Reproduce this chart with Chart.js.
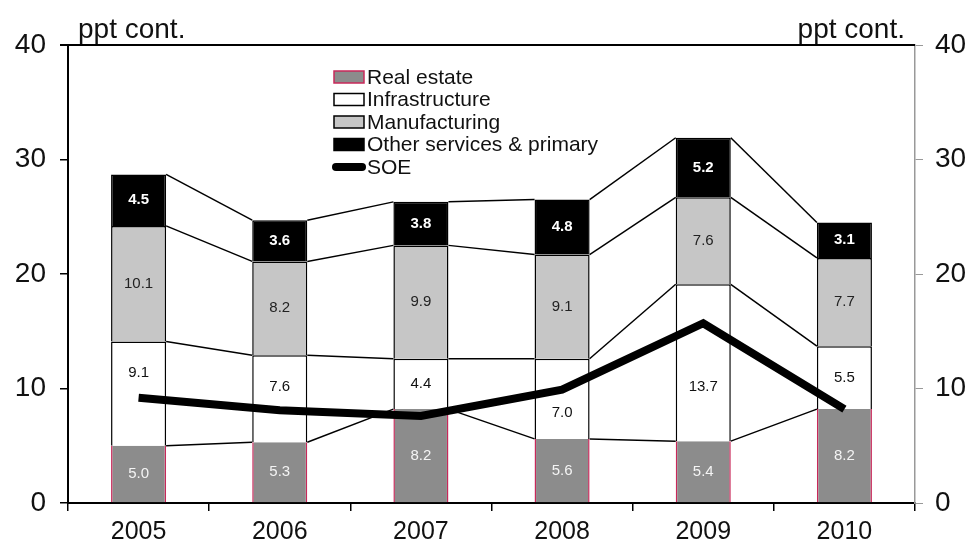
<!DOCTYPE html>
<html>
<head>
<meta charset="utf-8">
<script src="https://cdn.jsdelivr.net/npm/chart.js@4.4.0/dist/chart.umd.min.js"></script>
<style>
  html, body { margin: 0; padding: 0; background: #fff; }
  #wrap { width: 979px; height: 551px; }
</style>
</head>
<body>
<div id="wrap"><canvas id="grafico"></canvas></div>
<script>
const anos = ['2005', '2006', '2007', '2008', '2009', '2010'];
const realEstate = [5.0, 5.3, 8.2, 5.6, 5.4, 8.2];
const infraestrutura = [9.1, 7.6, 4.4, 7.0, 13.7, 5.5];
const manufatura = [10.1, 8.2, 9.9, 9.1, 7.6, 7.7];
const outros = [4.5, 3.6, 3.8, 4.8, 5.2, 3.1];
const soe = [9.2, 8.1, 7.6, 9.9, 15.7, 8.2];
const rotuloEixo = 'ppt cont.';

const fonte = '"Liberation Sans", Arial, sans-serif';

// rótulos de infraestrutura deslocados para fugir da linha SOE (em pontos do eixo)
const deslocaInfra = [1.8, 1.0, 0, -1.2, -2.1, 0];

// linhas que ligam os segmentos de uma barra a outra
const ligacoes = {
    id: 'ligacoes',
    beforeDatasetsDraw(chart) {
        const ctx = chart.ctx;
        ctx.save();
        ctx.strokeStyle = '#000';
        ctx.lineWidth = 1.5;
        for (let d = 0; d < 4; d++) {
            const barras = chart.getDatasetMeta(d).data;
            for (let i = 0; i < barras.length - 1; i++) {
                const a = barras[i], b = barras[i + 1];
                ctx.beginPath();
                ctx.moveTo(a.x + a.width / 2, a.y);
                ctx.lineTo(b.x - b.width / 2, b.y);
                ctx.stroke();
            }
        }
        ctx.restore();
    },
    afterDatasetDraw(chart, args) {
        if (args.index > 3) return;
        const ctx = chart.ctx;
        const esc = chart.scales.y;
        const pxPorPonto = (esc.getPixelForValue(0) - esc.getPixelForValue(10)) / 10;
        const cores = ['#f4f4f4', '#111', '#222', '#fff'];
        const valores = [realEstate, infraestrutura, manufatura, outros][args.index];
        ctx.save();
        ctx.font = (args.index === 3 ? 'bold ' : '') + '15px ' + fonte;
        ctx.fillStyle = cores[args.index];
        ctx.textAlign = 'center';
        ctx.textBaseline = 'middle';
        args.meta.data.forEach((bar, i) => {
            let y = (bar.y + bar.base) / 2;
            if (args.index === 1) y -= deslocaInfra[i] * pxPorPonto;
            ctx.fillText(valores[i].toFixed(1), bar.x, y);
        });
        ctx.restore();
    },
    afterDraw(chart) {
        const ctx = chart.ctx;
        const area = chart.chartArea;
        ctx.save();
        // linha de cima
        ctx.strokeStyle = '#000';
        ctx.lineWidth = 2;
        ctx.beginPath();
        ctx.moveTo(area.left - 8, area.top);
        ctx.lineTo(area.right, area.top);
        ctx.stroke();

        ctx.fillStyle = '#111';
        ctx.font = '28px ' + fonte;
        ctx.textBaseline = 'alphabetic';
        ctx.textAlign = 'left';
        ctx.fillText(rotuloEixo, 78, 38);
        ctx.textAlign = 'right';
        ctx.fillText(rotuloEixo, 905, 38);

        // legenda
        const itens = [
            { t: 'Real estate', fill: '#8c8c8c', stroke: '#c8285a' },
            { t: 'Infrastructure', fill: '#fff', stroke: '#000' },
            { t: 'Manufacturing', fill: '#c6c6c6', stroke: '#000' },
            { t: 'Other services & primary', fill: '#000', stroke: '#000' },
            { t: 'SOE', linha: true }
        ];
        ctx.font = '21px ' + fonte;
        ctx.textAlign = 'left';
        ctx.textBaseline = 'middle';
        itens.forEach((it, k) => {
            const y = 77 + k * 22.5;
            if (it.linha) {
                ctx.strokeStyle = '#000';
                ctx.lineWidth = 8;
                ctx.lineCap = 'round';
                ctx.beginPath();
                ctx.moveTo(336, y);
                ctx.lineTo(362, y);
                ctx.stroke();
            } else {
                ctx.fillStyle = it.fill;
                ctx.fillRect(334, y - 6, 30, 12);
                ctx.strokeStyle = it.stroke;
                ctx.lineWidth = 1.5;
                ctx.strokeRect(334, y - 6, 30, 12);
            }
            ctx.fillStyle = '#111';
            ctx.fillText(it.t, 367, y + 1);
        });
        ctx.restore();
    }
};

new Chart(document.getElementById('grafico').getContext('2d'), {
    data: {
        labels: anos,
        datasets: [
            {
                type: 'bar', label: 'Real estate', data: realEstate,
                backgroundColor: '#8c8c8c', borderColor: '#c8285a',
                borderWidth: { left: 1.5, right: 1.5, top: 0, bottom: 0 },
                barPercentage: 0.39, categoryPercentage: 1, order: 1
            },
            {
                type: 'bar', label: 'Infrastructure', data: infraestrutura,
                backgroundColor: '#fff', borderColor: '#000', borderWidth: 1.5,
                barPercentage: 0.39, categoryPercentage: 1, order: 1
            },
            {
                type: 'bar', label: 'Manufacturing', data: manufatura,
                backgroundColor: '#c6c6c6', borderColor: '#000', borderWidth: 1.5,
                barPercentage: 0.39, categoryPercentage: 1, order: 1
            },
            {
                type: 'bar', label: 'Other services & primary', data: outros,
                backgroundColor: '#000', borderColor: '#000', borderWidth: 1.5,
                barPercentage: 0.39, categoryPercentage: 1, order: 1
            },
            {
                type: 'line', label: 'SOE', data: soe, yAxisID: 'y2',
                borderColor: '#000', borderWidth: 8, pointRadius: 0,
                tension: 0, order: 0
            }
        ]
    },
    options: {
        responsive: true,
        maintainAspectRatio: false,
        animation: false,
        layout: { padding: { top: 45, left: 0, right: 0, bottom: 0 } },
        scales: {
            x: {
                stacked: true,
                grid: { offset: true, drawOnChartArea: false, color: '#000', tickLength: 8, lineWidth: 1.5 },
                border: { color: '#000', width: 2 },
                ticks: { color: '#111', font: { family: fonte, size: 25 }, padding: 6 },
                afterFit(s) { s.height = 48; }
            },
            y: {
                stacked: true, min: 0, max: 40,
                ticks: { stepSize: 10, color: '#111', font: { family: fonte, size: 28 }, padding: 14 },
                grid: { drawOnChartArea: false, color: '#000', tickLength: 8, lineWidth: 1.5 },
                border: { color: '#000', width: 2 },
                afterFit(s) { s.width = 68; }
            },
            y2: {
                position: 'right', min: 0, max: 40,
                ticks: { stepSize: 10, color: '#111', font: { family: fonte, size: 28 }, padding: 12 },
                grid: { drawOnChartArea: false, color: '#999', tickLength: 8 },
                border: { color: '#999', width: 1.5 },
                afterFit(s) { s.width = 64; }
            }
        },
        plugins: {
            legend: { display: false },
            tooltip: { enabled: false }
        }
    },
    plugins: [ligacoes]
});
</script>
</body>
</html>
